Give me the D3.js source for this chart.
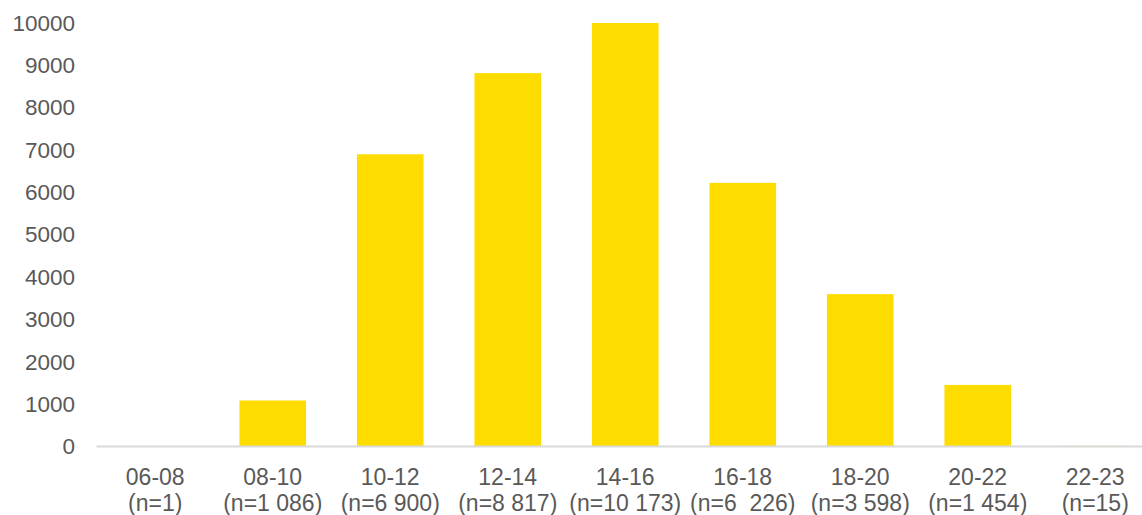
<!DOCTYPE html>
<html>
<head>
<meta charset="utf-8">
<script src="https://cdn.jsdelivr.net/npm/d3@7/dist/d3.min.js"></script>
<style>
  html, body { margin: 0; padding: 0; background: #fff; }
  svg { display: block; }
  text { font-family: "Liberation Sans", Arial, sans-serif; fill: #595959; white-space: pre; }
</style>
</head>
<body>
<svg id="chart" width="1142" height="515"></svg>
<script>
// Time slots and their counts
const slots = ["06-08", "08-10", "10-12", "12-14", "14-16", "16-18", "18-20", "20-22", "22-23"];
const counts = [1, 1086, 6900, 8817, 10173, 6226, 3598, 1454, 15];
const countLabels = ["(n=1)", "(n=1 086)", "(n=6 900)", "(n=8 817)", "(n=10 173)", "(n=6  226)", "(n=3 598)", "(n=1 454)", "(n=15)"];
const yTicks = [0, 1000, 2000, 3000, 4000, 5000, 6000, 7000, 8000, 9000, 10000];

(function () {
  const svg = d3.select("#chart");
  const plotLeft = 96.5, plotRight = 1154, plotTop = 23, plotBottom = 446.5;

  const x = d3.scaleBand()
    .domain(slots)
    .range([plotLeft, plotRight])
    .paddingInner(0.433)
    .paddingOuter(0.2165);

  const y = d3.scaleLinear()
    .domain([0, 10000])
    .range([plotBottom, plotTop]);

  // plot area clip: bars beyond the axis maximum are cut at the top
  svg.append("defs").append("clipPath").attr("id", "plot")
    .append("rect")
    .attr("x", plotLeft).attr("y", plotTop)
    .attr("width", plotRight - plotLeft).attr("height", plotBottom - plotTop);

  svg.append("g").attr("clip-path", "url(#plot)")
    .selectAll("rect")
    .data(slots)
    .join("rect")
    .attr("x", d => x(d))
    .attr("width", x.bandwidth())
    .attr("y", (d, i) => y(counts[i]))
    .attr("height", (d, i) => plotBottom - y(counts[i]))
    .attr("fill", "#FFDC00");

  // value axis labels
  const yAxis = d3.axisLeft(y).tickValues(yTicks).tickSize(0).tickPadding(0).tickFormat(d3.format("d"));
  const yg = svg.append("g").attr("transform", "translate(75,0)").call(yAxis);
  yg.select(".domain").remove();
  yg.selectAll("text")
    .attr("font-size", "22.5px")
    .attr("fill", "#595959")
    .attr("font-family", "Liberation Sans, Arial, sans-serif");

  // baseline
  svg.append("line")
    .attr("x1", plotLeft).attr("x2", 1142)
    .attr("y1", plotBottom).attr("y2", plotBottom)
    .attr("stroke", "#d9d9d9").attr("stroke-width", 2);

  // category labels, two lines each
  const xl = svg.append("g").selectAll("text")
    .data(slots)
    .join("text")
    .attr("text-anchor", "middle")
    .attr("font-size", "23px")
    .attr("x", d => x(d) + x.bandwidth() / 2)
    .attr("y", 484.5);
  xl.append("tspan").text(d => d);
  xl.append("tspan")
    .attr("x", d => x(d) + x.bandwidth() / 2)
    .attr("dy", 26.5)
    .text((d, i) => countLabels[i]);
})();
</script>
</body>
</html>
